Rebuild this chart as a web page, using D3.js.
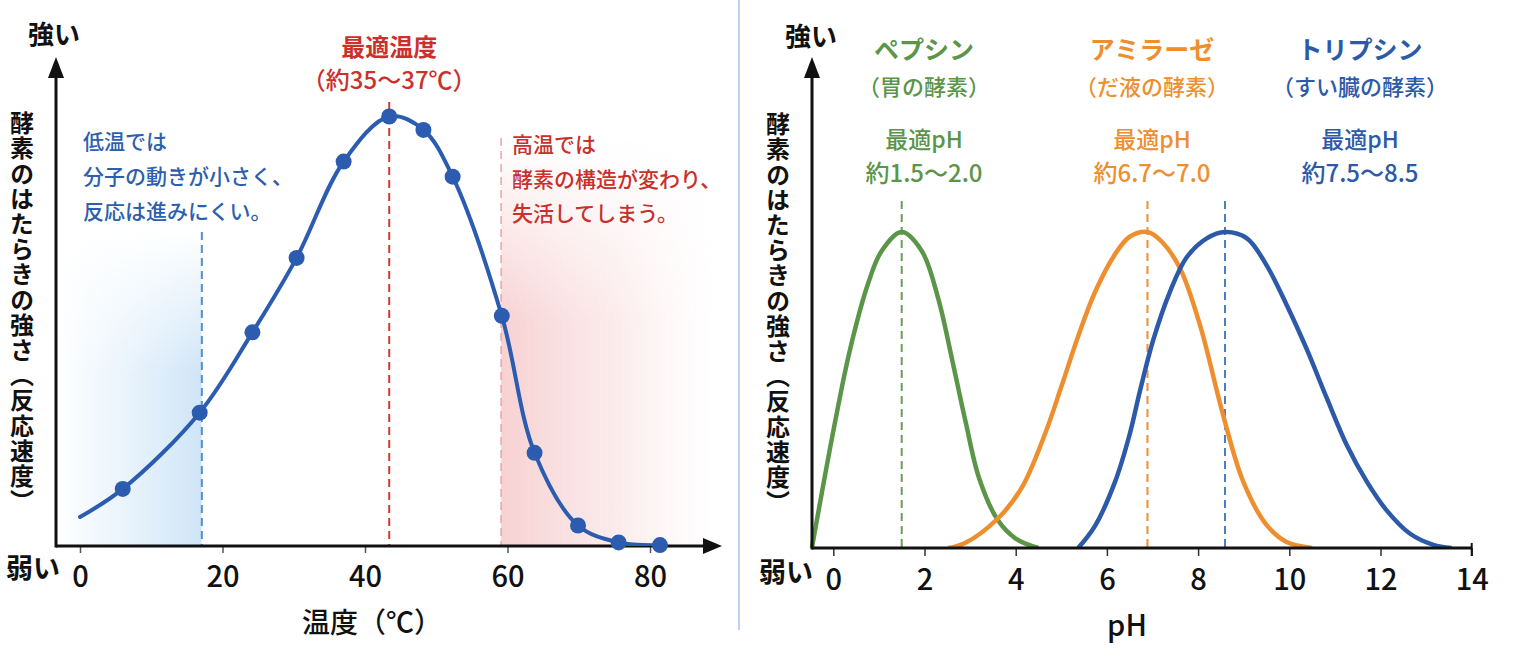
<!DOCTYPE html>
<html lang="ja">
<head>
<meta charset="UTF-8">
<title>酵素のはたらきと温度・pH</title>
<script src="https://d3js.org/d3.v7.min.js"></script>
<style>
  body { margin: 0; background: #fff; }
  svg { display: block; font-family: "Noto Sans CJK JP", "Noto Sans", sans-serif; }
</style>
</head>
<body>
<div id="chart"></div>
<script>
// --- temperature panel ---
var tempC = [0, 6, 16.8, 24.2, 30.4, 37, 43.4, 48.2, 52.3, 59.2, 63.8, 69.9, 75.6, 81.4];
var tempActivity = [6.5, 12.8, 29.9, 47.9, 64.6, 86.2, 96.3, 93.3, 82.8, 51.6, 20.9, 4.6, 0.8, 0.2];
var tempTicks = [0, 20, 40, 60, 80];
var lowTempLine = 17.1, optTempLine = 43.4, highTempLine = 59.1;

// --- pH panel ---
var pepsinPH  = [-0.47, 0.04, 0.37, 0.77, 1.06, 1.5, 1.94, 2.3, 2.6, 2.9, 3.2, 3.6, 4.0, 4.5];
var pepsinAct = [0, 40, 63, 84, 94, 100, 94, 79, 60, 40, 22, 9, 3, 0];
var amylasePH  = [2.52, 2.88, 3.62, 4.13, 4.64, 5.0, 5.37, 5.74, 6.18, 6.5, 6.89, 7.2, 7.6, 8.04, 8.55, 8.99, 9.5, 9.94, 10.5];
var amylaseAct = [0, 1.5, 9.5, 19, 36, 51, 67, 81, 93, 98.5, 100, 97, 88.6, 70.6, 42, 21, 7.3, 1.9, 0];
var trypsinPH  = [5.37, 5.74, 6.18, 6.5, 6.73, 7.02, 7.38, 7.75, 8.19, 8.59, 9.07, 9.5, 9.94, 10.38, 10.82, 11.26, 11.7, 12.13, 12.65, 13.16, 13.56];
var trypsinAct = [0, 7, 21, 36, 50, 66, 81, 92, 98, 100, 98, 89.5, 77, 63, 47.5, 32.6, 21, 12, 4.5, 1, 0];
var phTicks = [0, 2, 4, 6, 8, 10, 12, 14];
var optPH = [1.5, 6.89, 8.59];

var enzymes = [
  {name: "ペプシン", sub: "（胃の酵素）", range: "約1.5～2.0", ph: pepsinPH, act: pepsinAct, color: "#5b9548", dash: "#6a9e58", labelX: 924},
  {name: "アミラーゼ", sub: "（だ液の酵素）", range: "約6.7～7.0", ph: amylasePH, act: amylaseAct, color: "#ee8f2f", dash: "#ee8f2f", labelX: 1152},
  {name: "トリプシン", sub: "（すい臓の酵素）", range: "約7.5～8.5", ph: trypsinPH, act: trypsinAct, color: "#2c5aa8", dash: "#4a7fc4", labelX: 1360}
];

var width = 1532, height = 652;
var svg = d3.select("#chart").append("svg")
    .attr("width", width)
    .attr("height", height);

var defs = svg.append("defs");

function linGrad(id, x1, y1, x2, y2, stops) {
    var g = defs.append("linearGradient").attr("id", id)
        .attr("x1", x1).attr("y1", y1).attr("x2", x2).attr("y2", y2);
    stops.forEach(function (s) {
        g.append("stop").attr("offset", s[0]).attr("stop-color", s[1]).attr("stop-opacity", s[2]);
    });
}
linGrad("blueFade", 0, 0, 1, 0, [[0, "#d6eaf9", 0], [0.2, "#d6eaf9", 0.25], [1, "#cfe5f7", 1]]);
linGrad("redFade", 0, 0, 1, 0, [[0, "#f7d1d2", 1], [0.55, "#f9dfe0", 0.6], [1, "#fbecec", 0]]);
linGrad("upFade", 0, 0, 0, 1, [[0, "#fff", 0], [0.45, "#fff", 1], [1, "#fff", 1]]);

defs.append("mask").attr("id", "maskUp").attr("maskContentUnits", "objectBoundingBox")
    .append("rect").attr("width", 1).attr("height", 1).attr("fill", "url(#upFade)");

// clip so the smoothed curves never dip under the x axis
defs.append("clipPath").attr("id", "clipL").append("rect")
    .attr("x", 0).attr("y", 0).attr("width", 740).attr("height", 546);
defs.append("clipPath").attr("id", "clipR").append("rect")
    .attr("x", 740).attr("y", 0).attr("width", 792).attr("height", 548);

// divider
svg.append("line").attr("x1", 739).attr("x2", 739).attr("y1", 0).attr("y2", 630)
    .attr("stroke", "#bcd2ea").attr("stroke-width", 2);

// ================= left panel =================
var x = d3.scaleLinear().domain([0, 80]).range([80, 650]);
var y = d3.scaleLinear().domain([0, 100]).range([546, 100]);
var leftAxisX = 56;

var left = svg.append("g");

// shaded zones
left.append("rect").attr("x", leftAxisX + 1).attr("y", 230)
    .attr("width", x(lowTempLine) - leftAxisX - 1).attr("height", y(0) - 230)
    .attr("fill", "url(#blueFade)").attr("mask", "url(#maskUp)");
left.append("rect").attr("x", x(highTempLine)).attr("y", 140)
    .attr("width", 215).attr("height", y(0) - 140)
    .attr("fill", "url(#redFade)").attr("mask", "url(#maskUp)");

// dashed guide lines
left.append("line").attr("x1", x(lowTempLine)).attr("x2", x(lowTempLine))
    .attr("y1", 232).attr("y2", y(0))
    .attr("stroke", "#4f8fd0").attr("stroke-width", 2).attr("stroke-dasharray", "8,5");
left.append("line").attr("x1", x(optTempLine)).attr("x2", x(optTempLine))
    .attr("y1", 102).attr("y2", y(0))
    .attr("stroke", "#d43a35").attr("stroke-width", 2).attr("stroke-dasharray", "8,5");
left.append("line").attr("x1", x(highTempLine)).attr("x2", x(highTempLine))
    .attr("y1", 138).attr("y2", y(0))
    .attr("stroke", "#eaa3a8").attr("stroke-width", 1.5).attr("stroke-dasharray", "8,5");

// x axis ticks + labels
var xAxis = left.append("g").attr("transform", "translate(0," + y(0) + ")")
    .call(d3.axisBottom(x).tickValues(tempTicks).tickSize(7).tickPadding(13));
xAxis.select(".domain").remove();
xAxis.selectAll("line").attr("stroke", "#555").attr("stroke-width", 1.5);
xAxis.selectAll("text").attr("font-size", 29).attr("font-weight", 500).attr("fill", "#111")
    .attr("font-family", "'Noto Sans CJK JP', sans-serif");

// axis lines with arrows
left.append("line").attr("x1", leftAxisX).attr("x2", 706).attr("y1", y(0)).attr("y2", y(0))
    .attr("stroke", "#111").attr("stroke-width", 3);
left.append("path").attr("d", "M722," + y(0) + "L703," + (y(0) - 8) + "L703," + (y(0) + 8) + "Z").attr("fill", "#111");
left.append("line").attr("x1", leftAxisX).attr("x2", leftAxisX).attr("y1", y(0) + 1.5).attr("y2", 74)
    .attr("stroke", "#111").attr("stroke-width", 3);
left.append("path").attr("d", "M" + leftAxisX + ",57L" + (leftAxisX - 8) + ",78L" + (leftAxisX + 8) + ",78Z").attr("fill", "#111");

// curve + dots
var tempPts = tempC.map(function (t, i) { return [t, tempActivity[i]]; });
left.append("path").datum(tempPts)
    .attr("clip-path", "url(#clipL)")
    .attr("fill", "none").attr("stroke", "#2c5cb0").attr("stroke-width", 4)
    .attr("stroke-linecap", "round")
    .attr("d", d3.line().x(function (d) { return x(d[0]); }).y(function (d) { return y(d[1]); })
        .curve(d3.curveCatmullRom.alpha(0.5)));
left.selectAll("circle.dot").data(tempPts.slice(1)).join("circle")
    .attr("class", "dot")
    .attr("cx", function (d) { return x(d[0]); })
    .attr("cy", function (d) { return y(d[1]); })
    .attr("r", 8).attr("fill", "#2c5cb0");

// texts
left.append("text").attr("x", 28).attr("y", 44).attr("font-size", 26).attr("font-weight", 700)
    .attr("fill", "#111").text("強い");
left.append("text").attr("x", 6).attr("y", 578).attr("font-size", 27).attr("font-weight", 700)
    .attr("fill", "#111").text("弱い");
left.append("text").attr("x", 22).attr("y", 111)
    .style("writing-mode", "vertical-rl").attr("font-size", 24).attr("font-weight", 700)
    .attr("letter-spacing", 1.2).attr("fill", "#111")
    .text("酵素のはたらきの強さ（反応速度）");
left.append("text").attr("x", 372).attr("y", 633).attr("text-anchor", "middle")
    .attr("font-size", 28).attr("font-weight", 500).attr("fill", "#111").text("温度（℃）");

left.append("text").attr("x", x(optTempLine)).attr("y", 56).attr("text-anchor", "middle")
    .attr("font-size", 24).attr("font-weight", 700).attr("fill", "#cc302c").text("最適温度");
left.append("text").attr("x", x(optTempLine)).attr("y", 89).attr("text-anchor", "middle")
    .attr("font-size", 24).attr("font-weight", 500).attr("fill", "#cc302c").text("（約35～37℃）");

var lowNote = ["低温では", "分子の動きが小さく、", "反応は進みにくい。"];
var highNote = ["高温では", "酵素の構造が変わり、", "失活してしまう。"];
left.selectAll("text.low").data(lowNote).join("text").attr("class", "low")
    .attr("x", 83).attr("y", function (d, i) { return 149 + i * 35; })
    .attr("font-size", 21).attr("font-weight", 500).attr("fill", "#2d5fae").text(function (d) { return d; });
left.selectAll("text.high").data(highNote).join("text").attr("class", "high")
    .attr("x", 512).attr("y", function (d, i) { return 152 + i * 34.5; })
    .attr("font-size", 21).attr("font-weight", 500).attr("fill", "#c8302c").text(function (d) { return d; });

// ================= right panel =================
var xp = d3.scaleLinear().domain([0, 14]).range([833.3, 1471.7]);
var yp = d3.scaleLinear().domain([0, 100]).range([548, 232]);
var rightAxisX = 812;

var right = svg.append("g");

// dashed optimum lines
right.selectAll("line.opt").data(enzymes).join("line").attr("class", "opt")
    .attr("x1", function (d, i) { return xp(optPH[i]); })
    .attr("x2", function (d, i) { return xp(optPH[i]); })
    .attr("y1", 201).attr("y2", yp(0))
    .attr("stroke", function (d) { return d.dash; })
    .attr("stroke-width", 2).attr("stroke-dasharray", "8,5");

var phAxis = right.append("g").attr("transform", "translate(0," + yp(0) + ")")
    .call(d3.axisBottom(xp).tickValues(phTicks).tickSize(8).tickPadding(13));
phAxis.select(".domain").remove();
phAxis.selectAll("line").attr("stroke", "#333").attr("stroke-width", 1.5);
phAxis.selectAll("text").attr("font-size", 29).attr("font-weight", 500).attr("fill", "#111")
    .attr("font-family", "'Noto Sans CJK JP', sans-serif");

// curves
var phLine = d3.line().x(function (d) { return xp(d[0]); }).y(function (d) { return yp(d[1]); })
    .curve(d3.curveCatmullRom.alpha(0.5));
right.selectAll("path.enz").data(enzymes).join("path").attr("class", "enz")
    .attr("clip-path", "url(#clipR)")
    .attr("fill", "none")
    .attr("stroke", function (d) { return d.color; })
    .attr("stroke-width", 4.5)
    .attr("d", function (d) { return phLine(d.ph.map(function (p, i) { return [p, d.act[i]]; })); });

right.append("line").attr("x1", rightAxisX).attr("x2", xp(14)).attr("y1", yp(0)).attr("y2", yp(0))
    .attr("stroke", "#111").attr("stroke-width", 3);
right.append("line").attr("x1", xp(14)).attr("x2", xp(14)).attr("y1", yp(0) - 5).attr("y2", yp(0) + 8)
    .attr("stroke", "#111").attr("stroke-width", 2);
right.append("line").attr("x1", rightAxisX).attr("x2", rightAxisX).attr("y1", yp(0) + 1.5).attr("y2", 74)
    .attr("stroke", "#111").attr("stroke-width", 3);
right.append("path").attr("d", "M" + rightAxisX + ",57L" + (rightAxisX - 8) + ",78L" + (rightAxisX + 8) + ",78Z").attr("fill", "#111");

right.append("text").attr("x", 785).attr("y", 46).attr("font-size", 26).attr("font-weight", 700)
    .attr("fill", "#111").text("強い");
right.append("text").attr("x", 759).attr("y", 582).attr("font-size", 27).attr("font-weight", 700)
    .attr("fill", "#111").text("弱い");
right.append("text").attr("x", 778).attr("y", 112)
    .style("writing-mode", "vertical-rl").attr("font-size", 24).attr("font-weight", 700)
    .attr("letter-spacing", 1.2).attr("fill", "#111")
    .text("酵素のはたらきの強さ（反応速度）");
right.append("text").attr("x", 1127).attr("y", 636).attr("text-anchor", "middle")
    .attr("font-size", 29).attr("font-weight", 500).attr("fill", "#111").text("pH");

// enzyme labels
var lab = right.selectAll("g.lab").data(enzymes).join("g").attr("class", "lab")
    .attr("fill", function (d) { return d.color; })
    .attr("text-anchor", "middle");
lab.append("text").attr("x", function (d) { return d.labelX; }).attr("y", 59)
    .attr("font-size", 25).attr("font-weight", 700).text(function (d) { return d.name; });
lab.append("text").attr("x", function (d) { return d.labelX; }).attr("y", 95)
    .attr("font-size", 22).attr("font-weight", 500).text(function (d) { return d.sub; });
lab.append("text").attr("x", function (d) { return d.labelX; }).attr("y", 148)
    .attr("font-size", 23).attr("font-weight", 500).text("最適pH");
lab.append("text").attr("x", function (d) { return d.labelX; }).attr("y", 182)
    .attr("font-size", 24).attr("font-weight", 500).text(function (d) { return d.range; });
</script>
</body>
</html>
